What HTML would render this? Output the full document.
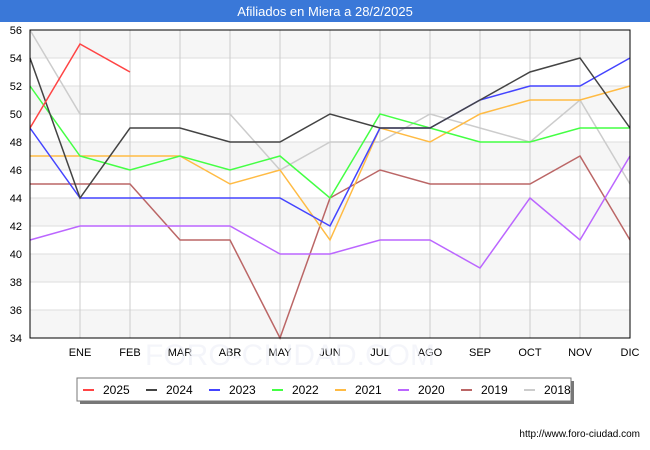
<!DOCTYPE html>
<html><head><meta charset="utf-8"><style>
body{margin:0;background:#fff;font-family:"Liberation Sans",sans-serif}
</style></head><body>
<svg id="c" width="650" height="450" xmlns="http://www.w3.org/2000/svg" style="display:block">
<rect x="0" y="0" width="650" height="450" fill="#fff"/>
<rect x="0" y="0" width="650" height="22" fill="#3a78d8"/>
<text x="325" y="16" text-anchor="middle" font-size="13" fill="#fff">Afiliados en Miera a 28/2/2025</text>
<rect x="30" y="30" width="600" height="308" fill="#fff"/>
<g id="grid"></g><g id="series"></g>
<rect x="30" y="30" width="600" height="308" fill="none" stroke="#000" stroke-width="1"/>
<g id="axes"></g>
<text x="290" y="365" text-anchor="middle" font-size="30" fill="#eef0f8" opacity="0.6">FORO-CIUDAD.COM</text>
<rect x="80" y="381" width="494" height="23" fill="#777"/>
<rect x="77" y="378" width="494" height="23" fill="#fff" stroke="#777"/>
<g id="legend"></g>
<text x="640" y="437" text-anchor="end" font-size="10" fill="#000">http://www.foro-ciudad.com</text>
</svg>
<script>
const months=["","ENE","FEB","MAR","ABR","MAY","JUN","JUL","AGO","SEP","OCT","NOV","DIC"];
const yTicks=[34,36,38,40,42,44,46,48,50,52,54,56];
const years=["2025","2024","2023","2022","2021","2020","2019","2018"];
const colors=["#ff4444","#444444","#4444ff","#44ff44","#ffbb44","#bb66ff","#bb6666","#cccccc"];
const s2025=[49,55,53];
const s2024=[54,44,49,49,48,48,50,49,49,51,53,54,49];
const s2023=[49,44,44,44,44,44,42,49,49,51,52,52,54];
const s2022=[52,47,46,47,46,47,44,50,49,48,48,49,49];
const s2021=[47,47,47,47,45,46,41,49,48,50,51,51,52];
const s2020=[41,42,42,42,42,40,40,41,41,39,44,41,47];
const s2019=[45,45,45,41,41,34,44,46,45,45,45,47,41];
const s2018=[56,50,50,50,50,46,48,48,50,49,48,51,45];
const series=[s2025,s2024,s2023,s2022,s2021,s2020,s2019,s2018];
const NS="http://www.w3.org/2000/svg";
const X=i=>30+i*50, Y=v=>338-(v-34)*14;
function mk(t,a,p){const e=document.createElementNS(NS,t);for(const k in a)e.setAttribute(k,a[k]);p.appendChild(e);return e;}
const g=document.getElementById('grid'),ax=document.getElementById('axes');
for(let i=0;i<yTicks.length-1;i++){if(i%2==0){const r=mk('rect',{x:30,y:Y(yTicks[i+1]),width:600,height:28,fill:'#f6f6f6'},g);

}}
yTicks.forEach(v=>{const l=mk('line',{x1:30,x2:630,y1:Y(v),y2:Y(v),stroke:'#ddd'},g);


const t=mk('text',{x:22,y:Y(v)+4,'text-anchor':'end','font-size':11},ax);t.textContent=v;

});
months.forEach((m,i)=>{if(!m)return;const l=mk('line',{x1:X(i),x2:X(i),y1:30,y2:338,stroke:'#ccc'},g);


const t=mk('text',{x:X(i),y:356,'text-anchor':'middle','font-size':11},ax);t.textContent=m;

});
const sg=document.getElementById('series');
for(let k=series.length-1;k>=0;k--){const d=series[k].map((v,i)=>X(i)+','+Y(v)).join(' ');
const p=mk('polyline',{points:d,fill:'none',stroke:colors[k],'stroke-width':1.5},sg);

}
const lg=document.getElementById('legend');
years.forEach((y,i)=>{const x=83+i*63;
const l=mk('line',{x1:x,x2:x+11,y1:390,y2:390,stroke:colors[i],'stroke-width':2},lg);


const t=mk('text',{x:x+20,y:394,'font-size':12},lg);t.textContent=y;

});
</script>
</body></html>
